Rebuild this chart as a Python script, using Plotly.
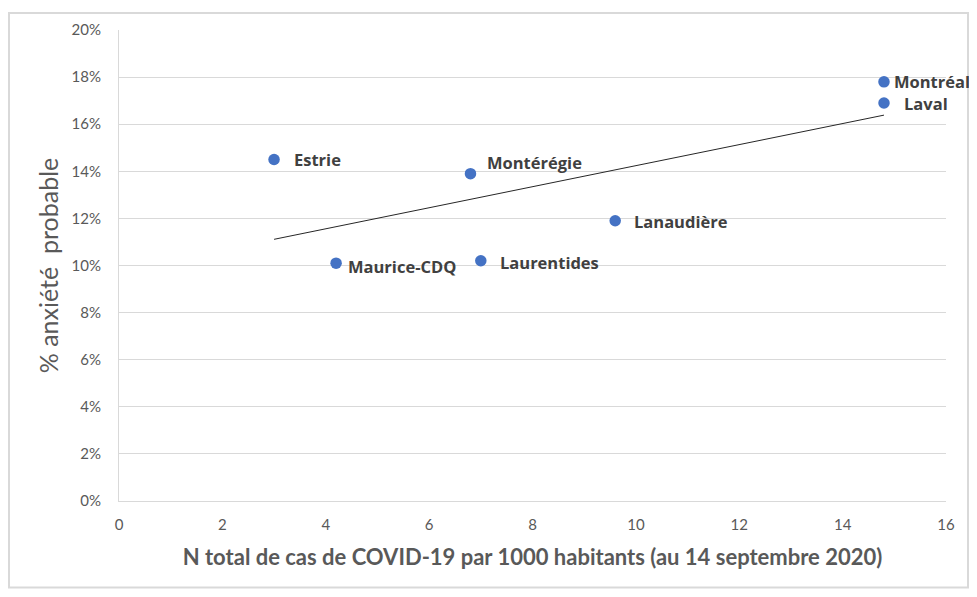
import numpy as np
import plotly.graph_objects as go

regions = ["Estrie", "Montérégie", "Maurice-CDQ", "Laurentides", "Lanaudière", "Montréal", "Laval"]
cases_per_1000 = [3.0, 6.8, 4.2, 7.0, 9.6, 14.8, 14.8]
anxiety_pct = [14.5, 13.9, 10.1, 10.2, 11.9, 17.8, 16.9]
x_ticks = [0, 2, 4, 6, 8, 10, 12, 14, 16]
y_ticks = [0, 2, 4, 6, 8, 10, 12, 14, 16, 18, 20]
y_tick_labels = [f"{v}%" for v in y_ticks]

# label offsets (styling, in pixels)
label_shift = {
    "Estrie": (18, 0), "Montérégie": (15, 11), "Maurice-CDQ": (10, -3),
    "Laurentides": (17, -2), "Lanaudière": (17, -1), "Montréal": (8, 0), "Laval": (18, 0),
}

slope, intercept = np.polyfit(cases_per_1000, anxiety_pct, 1)
tx = np.array([min(cases_per_1000), max(cases_per_1000)])
ty = slope * tx + intercept

fig = go.Figure()
fig.add_trace(go.Scatter(x=tx, y=ty, mode="lines", line=dict(color="#262626", width=1),
                         hoverinfo="skip", showlegend=False))
fig.add_trace(go.Scatter(x=cases_per_1000, y=anxiety_pct, mode="markers",
                         marker=dict(color="#4472C4", size=11.5), showlegend=False))

for name, xv, yv in zip(regions, cases_per_1000, anxiety_pct):
    dx, dy = label_shift[name]
    fig.add_annotation(x=xv, y=yv, text=f"<b>{name}</b>", showarrow=False,
                       xanchor="left", yanchor="middle", xshift=dx, yshift=dy,
                       font=dict(family="Open Sans, sans-serif", size=16.5, color="#404040"))

# outer chart border
fig.add_shape(type="rect", xref="paper", yref="paper",
              x0=-0.1330, x1=1.0266, y0=-0.1835, y1=1.036,
              line=dict(color="#D9D9D9", width=2), fillcolor="rgba(0,0,0,0)", layer="below")

fig.update_layout(
    width=961, height=581,
    margin=dict(l=111, r=23, t=19, b=88),
    paper_bgcolor="white", plot_bgcolor="white",
    font=dict(family="Lato, Open Sans, sans-serif", color="#595959"),
    xaxis=dict(range=[0, 16], tickvals=x_ticks, showgrid=False, zeroline=False,
               showline=True, linecolor="#D9D9D9", linewidth=1,
               ticks="", tickfont=dict(size=15, color="#595959"), ticklabelstandoff=10,
               title=dict(text="<b>N total de cas de COVID-19 par 1000 habitants (au 14 septembre 2020)</b>",
                          font=dict(size=22, color="#595959"), standoff=17)),
    yaxis=dict(range=[0, 20], tickvals=y_ticks, ticktext=y_tick_labels,
               showgrid=True, gridcolor="#D9D9D9", gridwidth=1, zeroline=False,
               showline=True, linecolor="#D9D9D9", linewidth=1,
               ticks="", tickfont=dict(size=15, color="#595959"), ticklabelstandoff=14,
               title=dict(text="% anxiété  probable",
                          font=dict(size=25, color="#595959"), standoff=5)),
)

fig.write_html("out.html")
